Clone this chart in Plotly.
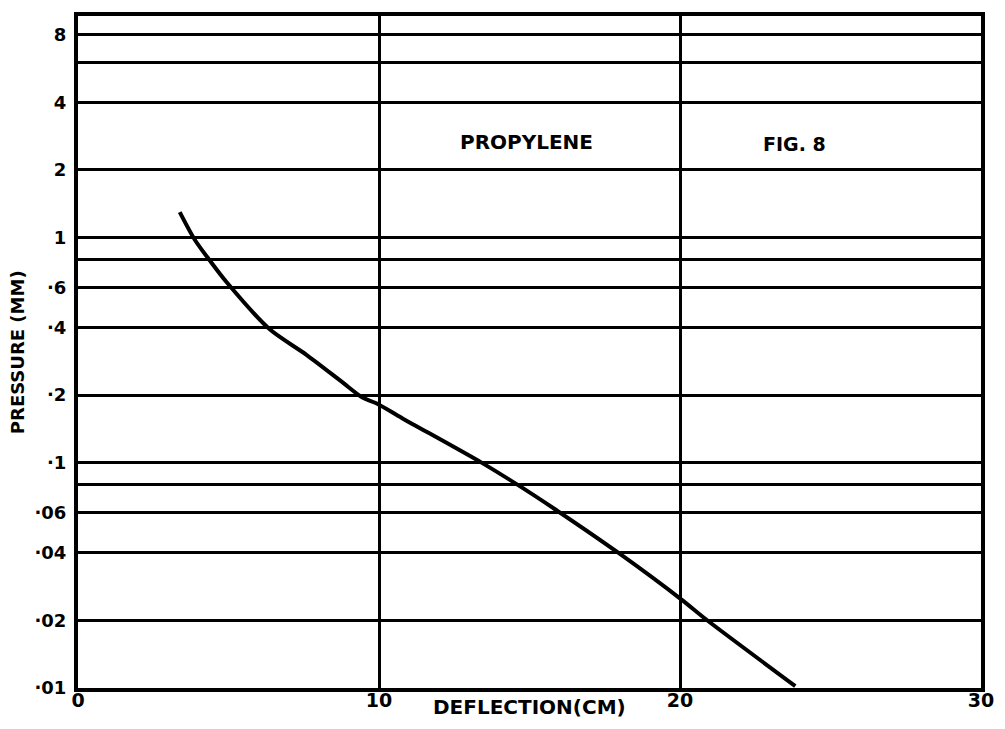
import math
import plotly.graph_objects as go

# curve (deflection in cm, pressure in mm)
deflection = [3.38, 3.88, 4.38, 4.94, 6.36, 7.59, 8.75, 9.45, 9.91, 10.77,
              13.42, 14.65, 15.81, 17.97, 20.05, 20.88, 23.83]
pressure = [1.30, 0.980, 0.792, 0.634, 0.393, 0.302, 0.230, 0.195, 0.184, 0.158,
            0.100, 0.0792, 0.0627, 0.0397, 0.0247, 0.0201, 0.0102]

# horizontal rulings and their labels (blank = unlabeled line)
y_grid = [8, 6, 4, 2, 1, 0.8, 0.6, 0.4, 0.2, 0.1, 0.08, 0.06, 0.04, 0.02, 0.01]
y_labels = ["8", "", "4", "2", "1", "", "·6", "·4", "·2", "·1", "", "·06", "·04", "·02", "·01"]

x_ticks = [0, 10, 20, 30]
x_labels = ["0", "10", "20", "30"]

FONT = "DejaVu Sans"

fig = go.Figure()
fig.add_trace(go.Scatter(
    x=deflection, y=pressure,
    mode="lines",
    line=dict(color="black", width=4, shape="spline", smoothing=0.8),
    showlegend=False,
))

fig.update_layout(
    width=990, height=715,
    paper_bgcolor="white", plot_bgcolor="white",
    margin=dict(l=70, r=15, t=4, b=35),
    font=dict(family=FONT, color="black", size=17),
    xaxis=dict(
        range=[0, 30],
        tickvals=x_ticks, ticktext=[f"<b>{t}</b>" for t in x_labels],
        showgrid=True, gridcolor="black", gridwidth=3,
        showline=True, linecolor="black", linewidth=4, mirror=True,
        zeroline=False, ticks="", tickfont=dict(size=19),
        ticklabelstandoff=-8,
    ),
    yaxis=dict(
        type="log", range=[-2, 0.985],
        tickvals=y_grid, ticktext=[f"<b>{t}</b>" if t else "" for t in y_labels],
        showgrid=True, gridcolor="black", gridwidth=3,
        showline=True, linecolor="black", linewidth=4, mirror=True,
        zeroline=False, ticks="", tickfont=dict(size=18),
        ticklabelstandoff=4,
    ),
    annotations=[
        # log axis: annotation y is given in log10 units
        dict(text="<b>PROPYLENE</b>", x=14.9, y=math.log10(2.65), xref="x", yref="y",
             showarrow=False, font=dict(size=20)),
        dict(text="<b>FIG. 8</b>", x=23.8, y=math.log10(2.62), xref="x", yref="y",
             showarrow=False, font=dict(size=19)),
        dict(text="<b>DEFLECTION(CM)</b>", x=15.0, y=-0.008, xref="x", yref="paper",
             yanchor="top", showarrow=False, font=dict(size=20)),
        dict(text="<b>PRESSURE (MM)</b>", x=-0.0674, y=0.5, xref="paper", yref="paper",
             xanchor="center", yanchor="middle",
             textangle=-90, showarrow=False, font=dict(size=18)),
    ],
)

fig.write_html("out.html")
